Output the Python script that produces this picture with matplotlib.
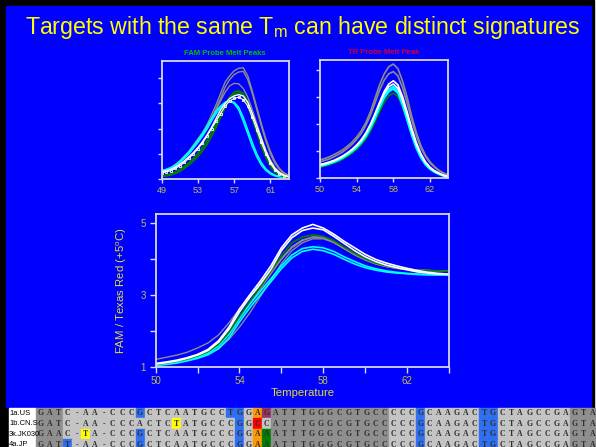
import numpy as np
import matplotlib.pyplot as plt
from matplotlib.patches import Rectangle

plt.rcParams['font.family'] = ['Liberation Sans', 'DejaVu Sans']
plt.rcParams['mathtext.fontset'] = 'custom'
plt.rcParams['mathtext.rm'] = 'Liberation Sans'
plt.rcParams['mathtext.it'] = 'Liberation Sans:italic'

# ---- FAM probe melt peaks (x = 49..63 step 0.5)
fam_x = np.arange(49, 63.01, 0.5)
fam_gray1 = [0.35,0.38,0.45,0.58,0.72,0.92,1.1,1.35,1.6,1.85,2.15,2.55,2.95,3.4,3.85,4.1,4.3,4.4,4.42,4.1,3.5,2.85,2.2,1.6,1.1,0.7,0.42,0.25,0.15]
fam_gray2 = [0.3,0.33,0.4,0.52,0.66,0.85,1.02,1.25,1.5,1.75,2.05,2.4,2.8,3.2,3.65,3.95,4.15,4.25,4.28,3.95,3.4,2.75,2.1,1.5,1.0,0.62,0.38,0.22,0.12]
fam_gray3 = [0.3,0.35,0.42,0.55,0.68,0.88,1.05,1.28,1.52,1.78,2.05,2.4,2.75,3.1,3.45,3.7,3.8,3.78,3.6,3.25,2.75,2.2,1.65,1.15,0.75,0.45,0.28,0.18,0.1]
fam_green1 = [0.12,0.15,0.2,0.28,0.38,0.5,0.65,0.82,1.02,1.25,1.52,1.85,2.2,2.6,2.95,3.25,3.45,3.5,3.4,3.05,2.55,2.0,1.45,0.95,0.58,0.32,0.18,0.1,0.06]
fam_green2 = [0.1,0.12,0.16,0.22,0.3,0.42,0.56,0.72,0.9,1.12,1.38,1.7,2.05,2.45,2.85,3.15,3.35,3.42,3.3,2.95,2.4,1.85,1.3,0.85,0.5,0.28,0.15,0.08,0.05]
fam_white1 = [0.3,0.32,0.38,0.47,0.58,0.72,0.88,1.05,1.25,1.48,1.75,2.05,2.4,2.75,3.0,3.2,3.3,3.35,3.3,3.05,2.6,2.1,1.6,1.1,0.7,0.42,0.25,0.15,0.1]
fam_white2 = [0.25,0.28,0.33,0.42,0.52,0.66,0.82,1.0,1.2,1.42,1.7,2.0,2.3,2.6,2.9,3.1,3.2,3.25,3.15,2.9,2.45,1.95,1.45,1.0,0.62,0.36,0.2,0.12,0.08]
fam_cyan1 = [0.3,0.35,0.42,0.52,0.65,0.82,1.0,1.22,1.45,1.7,1.98,2.3,2.6,2.85,3.0,3.1,3.05,2.85,2.45,1.95,1.45,1.0,0.65,0.4,0.25,0.15,0.1,0.07,0.05]
fam_cyan2 = [0.32,0.38,0.45,0.55,0.7,0.88,1.08,1.3,1.55,1.8,2.1,2.4,2.7,2.9,3.05,3.1,3.0,2.75,2.3,1.8,1.3,0.88,0.55,0.34,0.2,0.12,0.08,0.05,0.04]

# ---- TR probe melt peak (x = 50..64 step 0.5)
tr_x = np.arange(50, 64.01, 0.5)
tr_gray1 = [0.67,0.72,0.78,0.86,0.95,1.05,1.18,1.33,1.52,1.75,2.05,2.45,2.95,3.45,3.85,4.12,4.22,4.05,3.6,3.0,2.3,1.7,1.2,0.85,0.6,0.42,0.28,0.18,0.12]
tr_gray2 = [0.6,0.65,0.7,0.78,0.87,0.97,1.1,1.25,1.43,1.65,1.95,2.32,2.78,3.25,3.62,3.86,3.94,3.78,3.35,2.78,2.15,1.58,1.12,0.8,0.56,0.4,0.27,0.17,0.11]
tr_white1 = [0.48,0.52,0.57,0.63,0.71,0.8,0.92,1.05,1.2,1.4,1.65,1.98,2.38,2.8,3.2,3.48,3.6,3.45,3.02,2.45,1.85,1.32,0.9,0.6,0.4,0.27,0.18,0.1,0.06]
tr_white2 = [0.5,0.54,0.59,0.65,0.73,0.82,0.93,1.06,1.22,1.41,1.66,1.97,2.35,2.75,3.12,3.38,3.48,3.32,2.9,2.35,1.76,1.25,0.86,0.57,0.38,0.25,0.16,0.09,0.05]
tr_cyan1 = [0.45,0.49,0.54,0.6,0.67,0.76,0.87,1.0,1.15,1.34,1.58,1.9,2.28,2.68,3.04,3.28,3.38,3.22,2.78,2.22,1.65,1.15,0.78,0.52,0.35,0.23,0.15,0.08,0.04]
tr_cyan2 = [0.44,0.48,0.53,0.59,0.66,0.75,0.86,0.98,1.13,1.31,1.54,1.84,2.2,2.6,2.96,3.2,3.3,3.15,2.72,2.16,1.6,1.12,0.76,0.5,0.33,0.22,0.14,0.08,0.04]
tr_green = [0.4,0.44,0.49,0.55,0.62,0.7,0.8,0.92,1.06,1.23,1.45,1.74,2.08,2.46,2.8,3.04,3.14,3.02,2.65,2.15,1.62,1.15,0.8,0.54,0.36,0.24,0.15,0.09,0.05]

# ---- FAM / Texas Red ratio (x = 50..64 step 0.5)
ratio_x = np.arange(50, 64.01, 0.5)
ratio_white1 = [1.09,1.13,1.18,1.25,1.34,1.48,1.72,2.1,2.6,3.0,3.38,3.8,4.3,4.66,4.85,4.95,4.85,4.68,4.48,4.3,4.12,3.98,3.88,3.8,3.73,3.67,3.62,3.59,3.57]
ratio_white2 = [1.07,1.11,1.16,1.23,1.32,1.45,1.68,2.04,2.52,2.93,3.3,3.7,4.22,4.58,4.78,4.85,4.8,4.62,4.42,4.22,4.05,3.92,3.82,3.75,3.69,3.63,3.6,3.57,3.56]
ratio_gray1 = [1.2,1.26,1.32,1.4,1.52,1.66,1.88,2.22,2.6,2.95,3.25,3.6,3.98,4.3,4.5,4.6,4.6,4.45,4.28,4.12,3.98,3.87,3.8,3.75,3.71,3.68,3.67,3.66,3.66]
ratio_gray2 = [1.05,1.08,1.12,1.18,1.25,1.35,1.5,1.76,2.1,2.5,2.95,3.4,3.86,4.22,4.44,4.55,4.55,4.45,4.28,4.1,3.96,3.85,3.78,3.73,3.7,3.68,3.67,3.66,3.66]
ratio_gray3 = [1.06,1.1,1.15,1.21,1.29,1.4,1.58,1.9,2.32,2.76,3.16,3.58,4.0,4.33,4.52,4.6,4.58,4.45,4.28,4.12,3.98,3.86,3.78,3.73,3.7,3.68,3.67,3.66,3.65]
ratio_green = [1.06,1.1,1.15,1.21,1.3,1.42,1.62,1.96,2.4,2.82,3.22,3.66,4.08,4.44,4.6,4.66,4.62,4.5,4.32,4.15,4.0,3.88,3.8,3.75,3.71,3.68,3.67,3.66,3.65]
ratio_cyan1 = [1.04,1.08,1.13,1.19,1.27,1.38,1.57,1.9,2.34,2.74,3.1,3.44,3.8,4.1,4.28,4.33,4.3,4.2,4.05,3.92,3.8,3.72,3.66,3.62,3.59,3.57,3.56,3.55,3.55]
ratio_cyan2 = [1.03,1.06,1.1,1.16,1.23,1.33,1.5,1.8,2.24,2.64,3.0,3.36,3.72,4.02,4.2,4.26,4.22,4.12,3.98,3.85,3.75,3.68,3.63,3.6,3.58,3.56,3.55,3.55,3.54]

# ---- sequence alignment strip
seq_names = ['1a.US', '1b.CN.S', '3k.JK030', '4a.JP']
seqs = ['GATC-AA-CCCGCTCAATGCCTGGAGATTTGGGCGTGCCCCCGCAAGACTGCTAGCCGAGTA',
        'GATC-AA-CCCACTCTATGCCCGGCCATTTGGGCGTGCCCCCGCAAGACTGCTAGCCGAGTA',
        'GAAC-TA-CCCGCTCAATGCCCGGAAATTTGGGCGTGCCCCCGCAAGACTGCTAGCCGAGTA',
        'GATT-AA-CCCGCTCAATGCCCGGAAATTTGGGCGTGCCCCCGCAAGACTGCTAGCCGAGTA']
dark_cols = [0, 1, 2] + list(range(26, 39)) + [59, 60, 61]
highlights = [
    {11: 'blue', 21: 'blue', 22: 'blue', 24: 'orange', 25: 'maroon', 42: 'blue', 49: 'blue', 50: 'blue'},
    {15: 'yellow', 22: 'blue', 24: 'red', 42: 'blue', 49: 'blue', 50: 'blue'},
    {5: 'yellow', 11: 'blue', 22: 'blue', 24: 'orange', 25: 'green', 42: 'blue', 49: 'blue', 50: 'blue'},
    {3: 'blue', 11: 'blue', 22: 'blue', 24: 'orange', 25: 'green', 42: 'blue', 49: 'blue', 50: 'blue'},
]
cell_colors = {'blue': '#2f6ff0', 'orange': '#ff9900', 'maroon': '#993366',
               'red': '#ff0000', 'green': '#008000', 'yellow': '#ffff00'}

BLUE = '#0000ff'
SPINE = '#d8d8ee'
TICKC = '#c0c048'
LABC = '#e0e030'
GRAY = '#8c8c8c'
CYAN = '#00ffff'
GREEN = '#008000'

fig = plt.figure(figsize=(5.96, 4.47), dpi=100, facecolor='white')
bg = fig.add_axes([0, 0, 1, 1])
bg.set_xlim(0, 596)
bg.set_ylim(447, 0)
bg.axis('off')
bg.add_patch(Rectangle((0, 0), 594, 447, color='black'))
bg.add_patch(Rectangle((6, 6), 585, 401, color=BLUE))

bg.text(303, 34, 'Targets with the same T$_\\mathrm{m}$ can have distinct signatures',
        ha='center', va='baseline', color='#ffff00', fontsize=16.7)

# alignment strip
x0, cw, y0, rh = 36.0, 9.05, 407.5, 10.6
for r, s in enumerate(seqs):
    ytop = y0 + r * rh
    bg.add_patch(Rectangle((8.5, ytop), x0 - 8.5, rh, color='white'))
    for i, ch in enumerate(s):
        fc = '#8f8f8f' if i in dark_cols else '#c4c4c4'
        if i in highlights[r]:
            fc = cell_colors[highlights[r][i]]
        bg.add_patch(Rectangle((x0 + i * cw, ytop), cw, rh, color=fc))
        bg.text(x0 + (i + 0.5) * cw, ytop + rh / 2 + 0.5, ch, ha='center', va='center',
                fontsize=5.6, fontweight='bold', color='#303030', family='Liberation Serif')
    bg.text(9, ytop + rh / 2 + 0.3, seq_names[r], ha='left', va='center',
            fontsize=5.4, color='black', zorder=5)


def style(ax, xlim, ylim, xticks, xlabels, yticks, ylabels=None, size=6.5):
    ax.set_facecolor('none')
    ax.set_xlim(*xlim)
    ax.set_ylim(*ylim)
    for sp in ax.spines.values():
        sp.set_color(SPINE)
        sp.set_linewidth(1.3)
    ax.set_xticks(xticks)
    ax.set_xticklabels(xlabels)
    ax.set_yticks(yticks)
    ax.set_yticklabels(ylabels if ylabels is not None else [])
    ax.tick_params(colors=SPINE, labelcolor=TICKC, labelsize=size, length=3,
                   width=1, direction='out', pad=2)


# FAM peaks panel
ax1 = fig.add_axes([0.2713, 0.5996, 0.2128, 0.2646])
for y in [fam_gray1, fam_gray2, fam_gray3]:
    ax1.plot(fam_x, y, color=GRAY, lw=1)
for y in [fam_cyan1, fam_cyan2]:
    ax1.plot(fam_x, y, color=CYAN, lw=1.1)
for y in [fam_green1, fam_green2]:
    ax1.plot(fam_x, y, color=GREEN, lw=1.3)
ax1.plot(fam_x, fam_white1, color='white', lw=1)
ax1.plot(fam_x, fam_white2, color='white', lw=0.8, marker='s', ms=2, mfc='none', mec='white', mew=0.6)
style(ax1, (49, 63), (0, 4.7), [49, 53, 57, 61], ['49', '53', '57', '61'], [0, 1, 2, 3, 4])
ax1.set_title('FAM Probe Melt Peaks', color='#00c000', fontsize=5.5, fontweight='bold', pad=4)

# TR peak panel
ax2 = fig.add_axes([0.5369, 0.6018, 0.2153, 0.2640])
for y in [tr_gray1, tr_gray2]:
    ax2.plot(tr_x, y, color=GRAY, lw=1.2)
ax2.plot(tr_x, tr_green, color=GREEN, lw=1.2)
for y in [tr_cyan1, tr_cyan2]:
    ax2.plot(tr_x, y, color=CYAN, lw=1.5)
for y in [tr_white1, tr_white2]:
    ax2.plot(tr_x, y, color='white', lw=1.2)
style(ax2, (50, 64), (0, 4.37), [50, 54, 58, 62], ['50', '54', '58', '62'], [0, 1, 2, 3, 4])
ax2.set_title('TR Probe Melt Peak', color='#cc0033', fontsize=5.5, fontweight='bold', pad=4)

# ratio panel
ax3 = fig.add_axes([0.2612, 0.1797, 0.4921, 0.3416])
for y in [ratio_gray1, ratio_gray2, ratio_gray3]:
    ax3.plot(ratio_x, y, color=GRAY, lw=1)
for y in [ratio_cyan1, ratio_cyan2]:
    ax3.plot(ratio_x, y, color=CYAN, lw=1.2)
ax3.plot(ratio_x, ratio_green, color=GREEN, lw=1.2)
for y in [ratio_white1, ratio_white2]:
    ax3.plot(ratio_x, y, color='white', lw=1.2)
style(ax3, (50, 64), (1, 5.24), np.arange(50, 65, 2), ['50', '', '54', '', '58', '', '62', ''],
      [1, 2, 3, 4, 5], ['1', '', '3', '', '5'], size=7)
ax3.tick_params(length=4, pad=3)
ax3.set_xlabel('Temperature', color=LABC, fontsize=8.2, labelpad=1)
ax3.set_ylabel('FAM / Texas Red (+5$^\\mathrm{o}$C)', color=LABC, fontsize=8.2, labelpad=8)

fig.savefig('out.png', dpi=100, facecolor=fig.get_facecolor())
